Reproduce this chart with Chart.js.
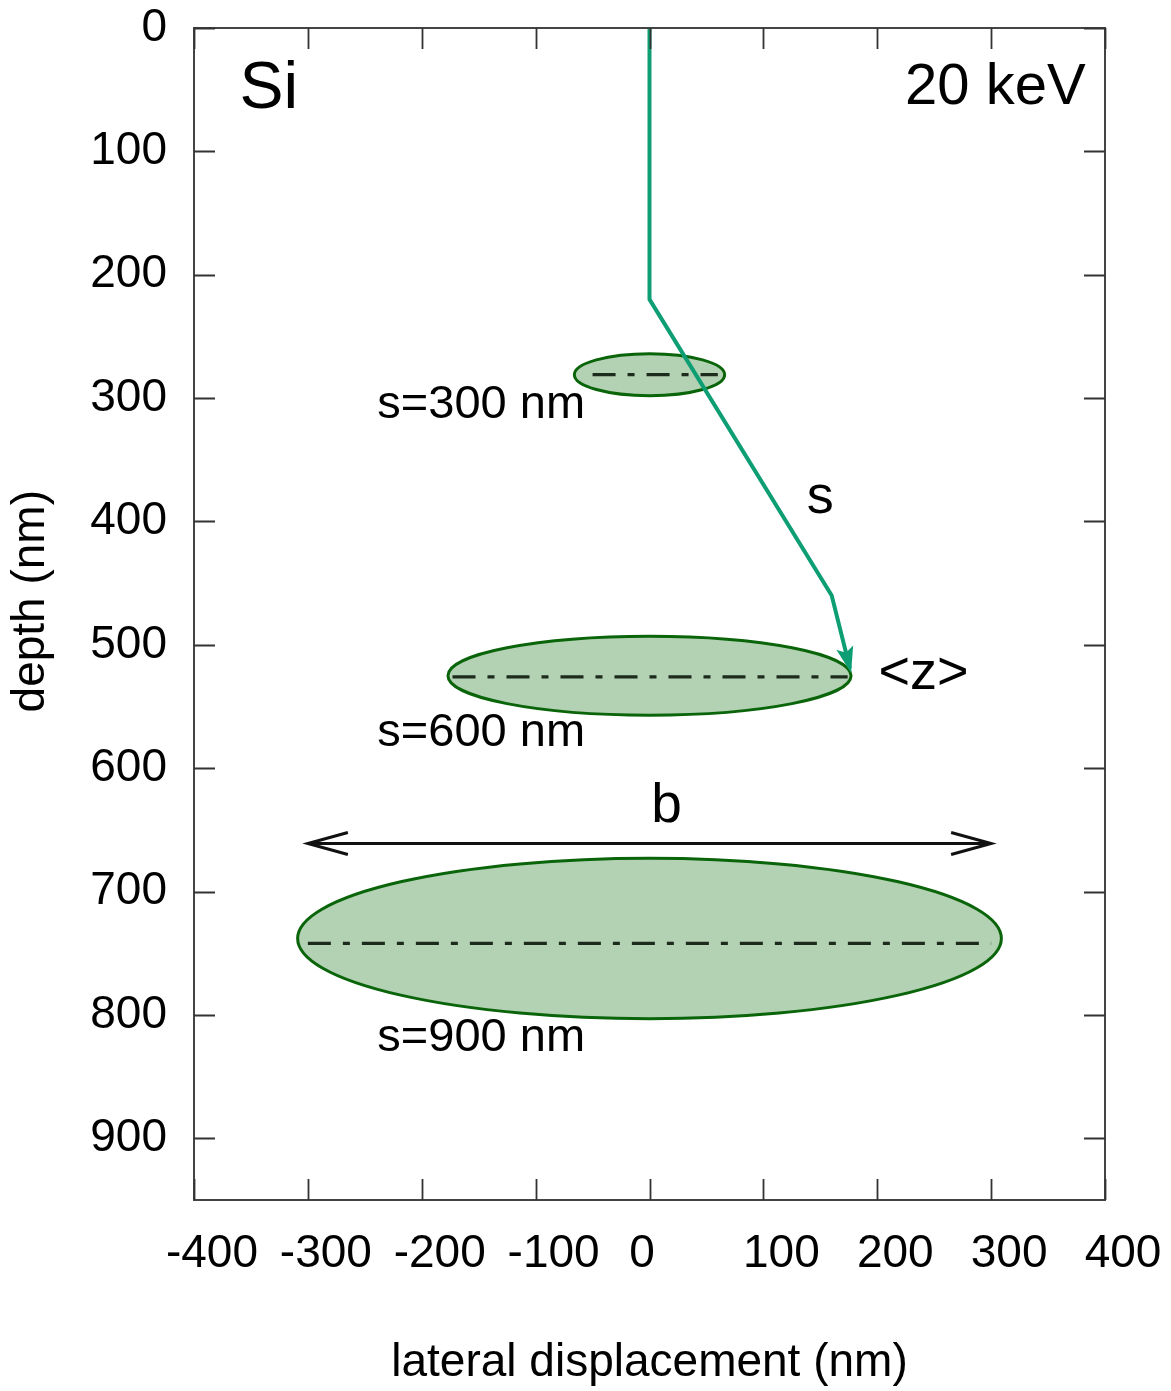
<!DOCTYPE html>
<html><head><meta charset="utf-8">
<script src="https://cdn.jsdelivr.net/npm/chart.js@4.4.1/dist/chart.umd.min.js"></script>
<style>html,body{margin:0;padding:0;background:#fff;overflow:hidden}#wrap{width:1171px;height:1391px}</style>
</head><body><div id="wrap"><canvas id="c" width="1171" height="1391"></canvas></div>
<script>
// ---- data ----
const xTickValues = [-400, -300, -200, -100, 0, 100, 200, 300, 400];
const xTickLabels = ['-400', '-300', '-200', '-100', '0', '100', '200', '300', '400'];
const yTickValues = [0, 100, 200, 300, 400, 500, 600, 700, 800, 900];
const yTickLabels = ['0', '100', '200', '300', '400', '500', '600', '700', '800', '900'];

// electron trajectory (lateral nm, depth nm)
const trajX = [0, 0, 160, 176];
const trajY = [0, 220, 460, 519];

// interaction ellipses for s = 300, 600, 900 nm
const ellipseS = [300, 600, 900];
const ellipseCX = [0, 0, 0];
const ellipseCY = [281, 525, 738];
const ellipseRX = [66, 177, 309];
const ellipseRY = [17, 32, 65];

// dash-dot mean-depth lines
const meanLineX1 = [-50, -173, -300];
const meanLineX2 = [60, 174, 300];
const meanLineY = [281, 526, 742];

// lateral width b arrow
const widthArrowX = [-300, 300];
const widthArrowY = [661, 661];

// text annotations
const noteTexts = ['Si', '20 keV', 's=300 nm', 's', 's=600 nm', '<z>', 'b', 's=900 nm'];
const noteX = [-360, 383, -239, 150, -239, 201, 15, -239];
const noteY = [65, 62, 316, 393, 582, 536, 644, 829];

// ---- styles ----
const FONT = '"Liberation Sans", Arial, sans-serif';
const noteStyle = [
  {size: 66, align: 'left'}, {size: 58, align: 'right'}, {size: 47, align: 'left'},
  {size: 54, align: 'center'}, {size: 47, align: 'left'}, {size: 54, align: 'left'},
  {size: 55, align: 'center'}, {size: 47, align: 'left'}
];

const pts = (xs, ys) => xs.map((x, i) => ({x: x, y: ys[i]}));
const datasets = [];
datasets.push({label: 'trajectory', data: pts(trajX, trajY), showLine: true, borderColor: '#0e9e74', borderWidth: 4, pointRadius: 0, fill: false});
for (let i = 0; i < meanLineY.length; i++) {
  datasets.push({label: 'mean ' + ellipseS[i], data: pts([meanLineX1[i], meanLineX2[i]], [meanLineY[i], meanLineY[i]]), showLine: true,
    borderColor: '#1d2b1d', borderWidth: 3.2, borderDash: [23, 12, 7, 12], pointRadius: 0, fill: false});
}
datasets.push({label: 'b', data: pts(widthArrowX, widthArrowY), showLine: true, borderColor: '#111', borderWidth: 3, pointRadius: 0, fill: false});

const ellipsePlugin = {
  id: 'ellipses',
  beforeDatasetsDraw(chart) {
    const {ctx, scales: {x, y}} = chart;
    ctx.save();
    for (let i = 0; i < ellipseCX.length; i++) {
      const cx = x.getPixelForValue(ellipseCX[i]);
      const cy = y.getPixelForValue(ellipseCY[i]);
      const rx = Math.abs(x.getPixelForValue(ellipseCX[i] + ellipseRX[i]) - cx);
      const ry = Math.abs(y.getPixelForValue(ellipseCY[i] + ellipseRY[i]) - cy);
      ctx.beginPath();
      ctx.ellipse(cx, cy, rx, ry, 0, 0, Math.PI * 2);
      ctx.fillStyle = 'rgb(179,209,179)';
      ctx.fill();
      ctx.lineWidth = 3;
      ctx.strokeStyle = '#0a640a';
      ctx.stroke();
    }
    ctx.restore();
  }
};

function arrowHead(ctx, x0, y0, x1, y1, len, half, filled) {
  const a = Math.atan2(y1 - y0, x1 - x0);
  const bx = x1 - len * Math.cos(a), by = y1 - len * Math.sin(a);
  const px = -Math.sin(a) * half, py = Math.cos(a) * half;
  ctx.beginPath();
  ctx.moveTo(bx + px, by + py);
  ctx.lineTo(x1, y1);
  ctx.lineTo(bx - px, by - py);
  if (filled) {
    ctx.lineTo(x1 - len * 0.8 * Math.cos(a), y1 - len * 0.8 * Math.sin(a));
    ctx.closePath();
    ctx.fill();
  }
  ctx.stroke();
}

const overlayPlugin = {
  id: 'overlay',
  afterDatasetsDraw(chart) {
    const {ctx, scales: {x, y}, chartArea: ca} = chart;
    ctx.save();
    // trajectory arrow head
    const n = trajX.length;
    ctx.fillStyle = '#0e9e74'; ctx.strokeStyle = '#0e9e74'; ctx.lineWidth = 3; ctx.lineJoin = 'miter';
    arrowHead(ctx, x.getPixelForValue(trajX[n - 2]), y.getPixelForValue(trajY[n - 2]),
      x.getPixelForValue(trajX[n - 1]), y.getPixelForValue(trajY[n - 1]), 18, 6, true);
    // b arrow heads (open)
    ctx.strokeStyle = '#111'; ctx.lineWidth = 3;
    const ax0 = x.getPixelForValue(widthArrowX[0]), ay0 = y.getPixelForValue(widthArrowY[0]);
    const ax1 = x.getPixelForValue(widthArrowX[1]), ay1 = y.getPixelForValue(widthArrowY[1]);
    arrowHead(ctx, ax1, ay1, ax0, ay0, 40, 11, false);
    arrowHead(ctx, ax0, ay0, ax1, ay1, 40, 11, false);
    // frame
    ctx.strokeStyle = '#444'; ctx.lineWidth = 2;
    ctx.strokeRect(ca.left, ca.top, ca.right - ca.left, ca.bottom - ca.top);
    // inward ticks, mirrored
    const tl = 21;
    ctx.lineWidth = 1.8; ctx.strokeStyle = '#333';
    ctx.beginPath();
    x.ticks.forEach(t => {
      const px = Math.round(x.getPixelForValue(t.value)) + 0.5;
      ctx.moveTo(px, ca.bottom); ctx.lineTo(px, ca.bottom - tl);
      ctx.moveTo(px, ca.top); ctx.lineTo(px, ca.top + tl);
    });
    y.ticks.forEach(t => {
      const py = Math.round(y.getPixelForValue(t.value)) + 0.5;
      ctx.moveTo(ca.left, py); ctx.lineTo(ca.left + tl, py);
      ctx.moveTo(ca.right, py); ctx.lineTo(ca.right - tl, py);
    });
    ctx.stroke();
    // notes
    ctx.fillStyle = '#000';
    ctx.textBaseline = 'alphabetic';
    for (let i = 0; i < noteTexts.length; i++) {
      ctx.font = noteStyle[i].size + 'px ' + FONT;
      ctx.textAlign = noteStyle[i].align;
      ctx.fillText(noteTexts[i], x.getPixelForValue(noteX[i]), y.getPixelForValue(noteY[i]));
    }
    ctx.restore();
  }
};

new Chart(document.getElementById('c'), {
  type: 'scatter',
  data: {datasets: datasets},
  options: {
    responsive: false, animation: false, devicePixelRatio: 1,
    layout: {padding: {top: 28, right: 66, left: 0, bottom: 0}},
    plugins: {legend: {display: false}, tooltip: {enabled: false}},
    scales: {
      x: {
        type: 'linear', min: -400, max: 400,
        afterBuildTicks: s => { s.ticks = xTickValues.map(v => ({value: v})); },
        afterFit: s => { s.height = 191; s.paddingLeft = 0; s.paddingRight = 0; },
        grid: {display: false, drawTicks: false},
        border: {display: false},
        ticks: {
          font: {family: FONT, size: 46}, color: '#000', padding: 27, labelOffset: 18, maxRotation: 0, autoSkip: false,
          callback: v => { const i = xTickValues.indexOf(v); const s = i >= 0 ? xTickLabels[i] : ''; return s === '0' ? '0    ' : s; }
        },
        title: {display: true, text: 'lateral displacement (nm)', color: '#000', font: {family: FONT, size: 46}, padding: {top: 0, bottom: 0}}
      },
      y: {
        type: 'linear', min: 0, max: 950, reverse: true,
        afterBuildTicks: s => { s.ticks = yTickValues.map(v => ({value: v})); },
        afterFit: s => { s.width = 194; s.paddingTop = 0; s.paddingBottom = 0; },
        grid: {display: false, drawTicks: false},
        border: {display: false},
        ticks: {
          font: {family: FONT, size: 46}, color: '#000', padding: 27, autoSkip: false,
          callback: v => { const i = yTickValues.indexOf(v); return i >= 0 ? yTickLabels[i] : ''; }
        },
        title: {display: true, text: '  depth (nm)', color: '#000', font: {family: FONT, size: 46}, padding: {top: 4, bottom: 0}}
      }
    }
  },
  plugins: [ellipsePlugin, overlayPlugin]
});
</script></body></html>
